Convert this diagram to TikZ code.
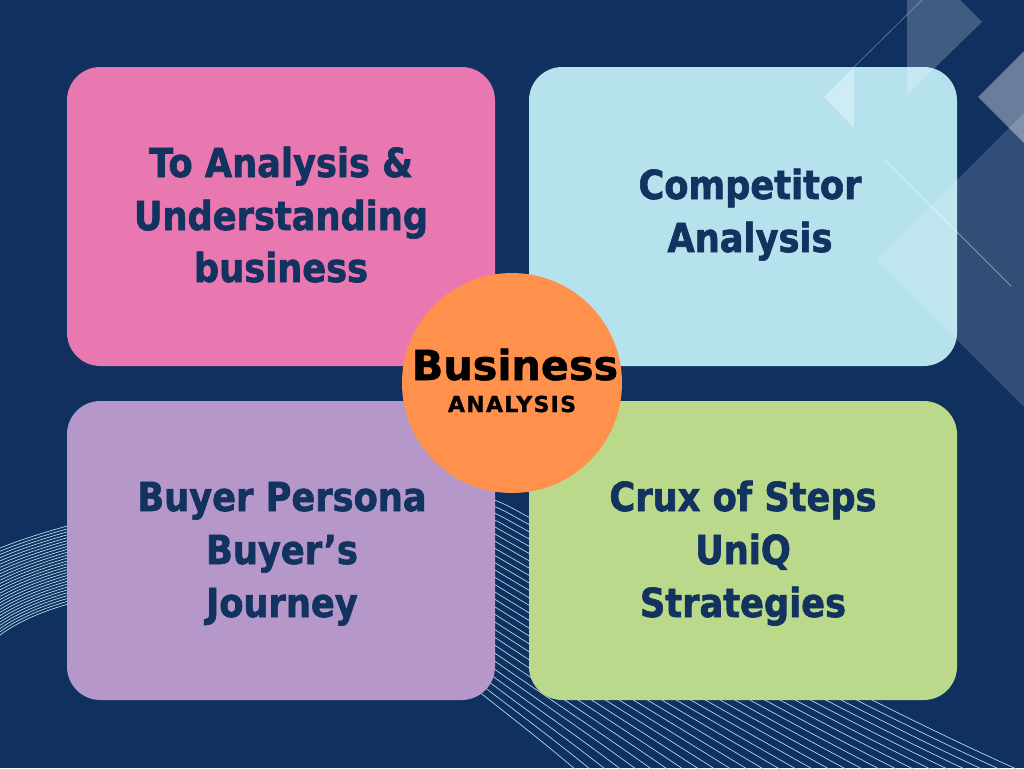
\documentclass[tikz,border=0pt]{standalone}
\usepackage{fontspec}
\setmainfont{DejaVu Sans}[FakeBold=1.2]
\newfontfamily\boxfont{DejaVu Sans}[FakeStretch=0.88,FakeBold=1.6]
\newfontfamily\capfont{DejaVu Sans}[LetterSpace=6,FakeBold=1.2]
\usetikzlibrary{calc}
\definecolor{bg}{HTML}{10305F}
\definecolor{navy}{HTML}{12325F}
\definecolor{cpink}{HTML}{E978B0}
\definecolor{cblue}{HTML}{B6E2EE}
\definecolor{cpurple}{HTML}{B598C9}
\definecolor{cgreen}{HTML}{BBD98B}
\definecolor{corange}{HTML}{FF914D}
\definecolor{wavec}{HTML}{B0E0EE}
\tikzset{
  card/.style={rectangle, rounded corners=25pt, minimum width=321pt, minimum height=224.25pt, inner sep=0pt, draw=none},
  lbl/.style={font=\boxfont\bfseries\fontsize{30}{36}\selectfont, text=navy, inner sep=0pt, anchor=base},
  wave/.style={draw=wavec, line width=0.5pt},
  deco/.style={fill=white, draw=none},
  decoline/.style={draw=white, line width=0.6pt}
}
\begin{document}
\begin{tikzpicture}[x=0.75pt,y=-0.75pt]
\fill[bg] (0,0) rectangle (1024,768);
\useasboundingbox (0,0) rectangle (1024,768);
\begin{scope}
\clip (0,0) rectangle (1024,768);
\foreach \i in {0,...,27}{
  \pgfmathsetmacro\t{\i/27}
  \draw[wave] ($(0,635)!\t!(0,548)$) .. controls ($(80,575)!\t!(120,500)$) and ($(320,560)!\t!(412,453)$) .. ($(440,660)!\t!(512,508)$) .. controls ($(500,710)!\t!(692,607)$) and ($(550,745)!\t!(880,709)$) .. ($(610,800)!\t!(1030,775)$);
}
\end{scope}
% cards
\node[card, fill=cpink] (b1) at (281,216.5) {};
\node[card, fill=cblue] (b2) at (743,216.5) {};
\node[card, fill=cpurple] (b3) at (281,550.5) {};
\node[card, fill=cgreen] (b4) at (743,550.5) {};
% card texts
\node[lbl] (t1a) at (281,177) {To Analysis \&};
\node[lbl] (t1b) at (281,230) {Understanding};
\node[lbl] (t1c) at (281,282) {business};
\node[lbl] (t2a) at (750,199) {Competitor};
\node[lbl] (t2b) at (750,252) {Analysis};
\node[lbl] (t3a) at (282,511) {Buyer Persona};
\node[lbl] (t3b) at (282,564) {Buyer’s};
\node[lbl] (t3c) at (282,617) {Journey};
\node[lbl] (t4a) at (743,511) {Crux of Steps};
\node[lbl] (t4b) at (743,564) {UniQ};
\node[lbl] (t4c) at (743,617) {Strategies};
% decorations top right
\fill[deco, opacity=0.21] (907,0) -- (960,0) -- (982,22) -- (907,95) -- cycle;
\fill[deco, opacity=0.35] (824,97) -- (854,67) -- (854,128) -- cycle;
\draw[decoline, opacity=0.3] (854,67) -- (922,0);
\fill[deco, opacity=0.38] (978,97) -- (1024,51) -- (1024,143) -- cycle;
\fill[deco, opacity=0.15] (877,260) -- (1024,113) -- (1024,407) -- cycle;
\draw[decoline, opacity=0.4] (885,160) -- (1011,286);
% centre circle
\node[circle, fill=corange, minimum size=165pt, inner sep=0pt, draw=none] (c) at (512,383) {};
\node[font=\bfseries\fontsize{31}{36}\selectfont, text=black, inner sep=0pt, anchor=base] (c1) at (515,380) {Business};
\node[font=\capfont\bfseries\fontsize{16.5}{20}\selectfont, text=black, inner sep=0pt, anchor=base] (c2) at (512,412) {ANALYSIS};
\end{tikzpicture}
\end{document}
